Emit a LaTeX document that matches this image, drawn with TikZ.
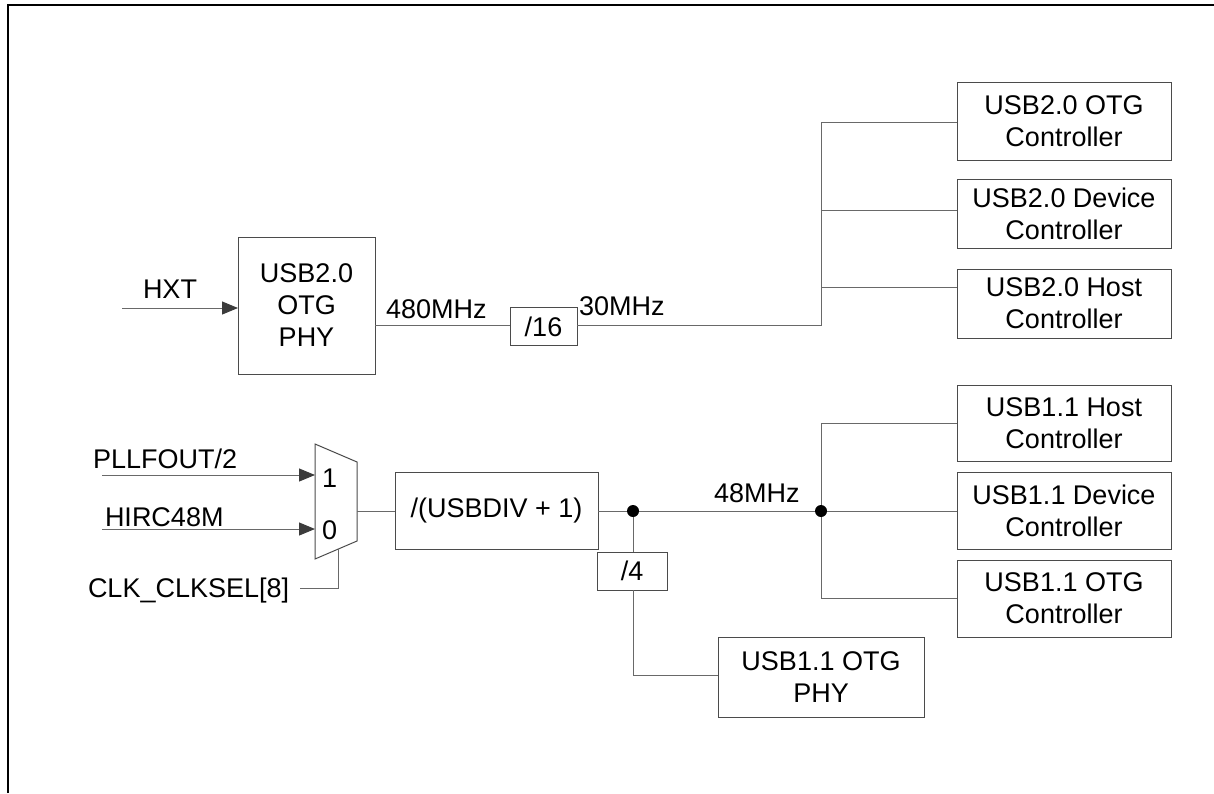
\documentclass[tikz,border=0pt]{standalone}
\usepackage{fontspec}
\setmainfont{Liberation Sans}
\usetikzlibrary{arrows.meta}
\definecolor{wirec}{RGB}{105,105,105}
\definecolor{boxc}{RGB}{75,75,75}
\definecolor{tipc}{RGB}{60,60,60}
\begin{document}
\begin{tikzpicture}[x=1pt,y=-1pt,
  txt/.style={font=\fontsize{27}{32}\selectfont, inner sep=0pt, outer sep=0pt},
  blk/.style={draw=boxc, line width=1pt, txt, align=center},
  wire/.style={draw=wirec, line width=1pt},
  arrowline/.style={wire, -{Triangle[length=16pt,width=13pt,fill=tipc,color=tipc]}},
  frame/.style={draw=black, line width=2.5pt},
  lbl/.style={txt, anchor=base west}]
\useasboundingbox (0,0) rectangle (1214,793);
% frame
\draw[frame] (8,793) -- (8,5) -- (1214,5);

% blocks
\node[blk, minimum width=137pt, minimum height=137pt] (phy2) at (306.5,305.5) {USB2.0\\OTG\\PHY};
\node[blk, minimum width=67pt, minimum height=38pt] (div16) at (543.5,326.5) {/16};
\node[blk, minimum width=214pt, minimum height=78pt] (otg2c) at (1064,121) {USB2.0 OTG\\Controller};
\node[blk, minimum width=214pt, minimum height=69pt] (dev2c) at (1064,213.5) {USB2.0 Device\\Controller};
\node[blk, minimum width=214pt, minimum height=69pt] (host2c) at (1064,303.5) {USB2.0 Host\\Controller};
\node[blk, minimum width=214pt, minimum height=76pt] (host1c) at (1064,423) {USB1.1 Host\\Controller};
\node[blk, minimum width=214pt, minimum height=77pt] (dev1c) at (1064,510.5) {USB1.1 Device\\Controller};
\node[blk, minimum width=214pt, minimum height=77pt] (otg1c) at (1064,598.5) {USB1.1 OTG\\Controller};
\node[blk, minimum width=203pt, minimum height=77pt] (usbdiv) at (496.5,510.5) {/(USBDIV + 1)};
\node[blk, minimum width=70pt, minimum height=38pt] (div4) at (632,571) {/4};
\node[blk, minimum width=206pt, minimum height=80pt] (phy1) at (821,677) {USB1.1 OTG\\PHY};

% multiplexer
\draw[draw=boxc, line width=1pt] (315,444) -- (357,462) -- (357,541) -- (315,559) -- cycle;
\coordinate (m1) at (315,475);
\coordinate (m0) at (315,529);
\coordinate (mo) at (357,511);
\coordinate (ms) at (338,549);
\node[lbl] (one) at (322,487) {1};
\node[lbl] (zero) at (322,539) {0};

% labels
\node[lbl] (hxtl) at (143,298) {HXT};
\node[lbl] (l480) at (386,318) {480MHz};
\node[lbl] (l30) at (579,315) {30MHz};
\node[lbl] (l48) at (714,502) {48MHz};
\node[lbl] (pllL) at (93,468) {PLLFOUT/2};
\node[lbl] (hircL) at (105,526) {HIRC48M};
\node[lbl] (clkL) at (88,597) {CLK\_CLKSEL[8]};

% inputs
\coordinate (hxt) at (122,308);
\draw[arrowline] (hxt) -- (hxt -| phy2.west);
\coordinate (pll) at (102,475);
\draw[arrowline] (pll) -- (m1);
\coordinate (hirc) at (102,529);
\draw[arrowline] (hirc) -- (m0);
\coordinate (clk) at (300,588);
\draw[wire] (clk) -- (ms |- clk) -- (ms);

% USB2.0 clock path
\coordinate (a480) at (375,325);
\draw[wire] (a480) -- (a480 -| div16.west);
\coordinate (j30) at (821,325);
\coordinate (b1) at (821,122);
\coordinate (b2) at (821,210);
\coordinate (b3) at (821,287);
\draw[wire] (div16.east |- j30) -- (j30) -- (b1) -- (b1 -| otg2c.west);
\draw[wire] (b2) -- (b2 -| dev2c.west);
\draw[wire] (b3) -- (b3 -| host2c.west);

% USB1.1 clock path
\draw[wire] (mo) -- (mo -| usbdiv.west);
\coordinate (d4) at (633,511);
\coordinate (j48) at (821,511);
\coordinate (c1) at (821,423);
\coordinate (c3) at (821,598);
\draw[wire] (usbdiv.east |- j48) -- (j48) -- (j48 -| dev1c.west);
\draw[wire] (c1 -| host1c.west) -- (c1) -- (c3) -- (c3 -| otg1c.west);
\draw[wire] (d4) -- (d4 |- div4.north);
\coordinate (p1) at (633,675);
\draw[wire] (d4 |- div4.south) -- (p1) -- (p1 -| phy1.west);
\fill[black] (d4) circle (6pt);
\fill[black] (j48) circle (6pt);
\end{tikzpicture}
\end{document}
